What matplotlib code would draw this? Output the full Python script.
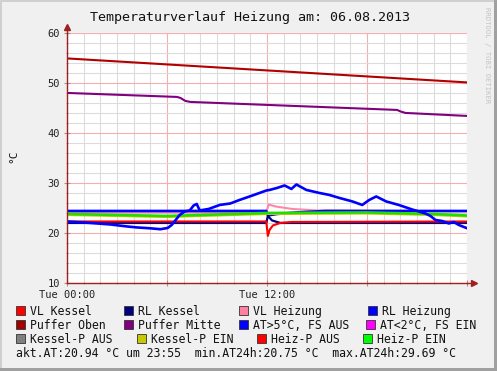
import numpy as np
import matplotlib
matplotlib.use('Agg')
import matplotlib.pyplot as plt
from matplotlib.patches import Rectangle
from matplotlib.ticker import MultipleLocator

# --- data (hours since Tue 00:00, degrees C) ---
oben_t = [0, 24]
oben_v = [54.9, 50.1]

mitte_t = [0, 6.6, 6.8, 7.1, 7.4, 19.8, 20.0, 20.3, 24]
mitte_v = [48.0, 47.2, 47.0, 46.4, 46.2, 44.6, 44.3, 44.0, 43.4]

vlk_t = [0, 11.95, 12.05, 12.15, 12.35, 12.8, 13.5, 24]
vlk_v = [22.3, 22.3, 19.4, 20.6, 21.5, 22.0, 22.2, 22.3]

rlk_t = [0, 11.95, 12.05, 12.3, 12.8, 24]
rlk_v = [22.0, 22.0, 23.4, 22.5, 22.0, 22.0]

vlh_t = [0, 11.95, 12.1, 12.5, 13.5, 15.0, 24]
vlh_v = [24.1, 24.1, 25.7, 25.3, 24.8, 24.5, 24.3]

rlh_t = [0, 11.95, 12.05, 12.6, 13.8, 15.5, 24]
rlh_v = [24.4, 24.4, 23.5, 23.8, 24.1, 24.4, 24.4]

at_t = [0, 1.4, 2.6, 3.6, 4.2, 4.7, 5.1, 5.6, 6.04, 6.28, 6.52, 6.76, 7.06, 7.36, 7.6, 7.78, 7.96,
        8.5, 9.16, 9.8, 10.35, 11.13, 11.97, 12.15, 12.6, 13.05, 13.46, 13.76, 14.36, 15.14, 15.74,
        16.34, 17.12, 17.71, 18.13, 18.55, 19.15, 19.9, 20.7, 21.5, 21.8, 22.1, 22.5, 22.9, 23.2, 23.5, 24]
at_v = [22.3, 22.0, 21.7, 21.3, 21.1, 21.0, 20.9, 20.75, 21.0, 21.6, 22.6, 23.6, 24.3, 24.5, 25.5, 25.8, 24.5,
        24.8, 25.6, 25.9, 26.6, 27.5, 28.5, 28.6, 29.0, 29.5, 28.8, 29.69, 28.6, 28.0, 27.6,
        27.0, 26.3, 25.6, 26.6, 27.3, 26.3, 25.6, 24.7, 23.9, 23.4, 22.6, 22.4, 21.9, 22.2, 21.6, 20.94]

kp_ein_t = [0, 6, 12, 18, 22, 24]
kp_ein_v = [23.6, 23.2, 23.8, 23.9, 23.6, 23.3]

hp_ein_t = [0, 6, 12, 18, 22, 24]
hp_ein_v = [23.8, 23.4, 24.0, 24.1, 23.8, 23.5]

tick_hours = [0, 12]
tick_labels = ['Tue 00:00', 'Tue 12:00']

legend_rows = [
    [('VL Kessel', '#ff0000'), ('RL Kessel', '#000080'), ('VL Heizung', '#ff80a0'), ('RL Heizung', '#0000ff')],
    [('Puffer Oben', '#a00000'), ('Puffer Mitte', '#800080'), ('AT>5°C, FS AUS', '#0000ff'), ('AT<2°C, FS EIN', '#ff00ff')],
    [('Kessel-P AUS', '#808080'), ('Kessel-P EIN', '#c8c800'), ('Heiz-P AUS', '#ff0000'), ('Heiz-P EIN', '#00ff00')],
]
legend_x = [[16, 124, 239, 368], [16, 124, 239, 366], [16, 137, 257, 363]]
stats = 'akt.AT:20.94 °C um 23:55  min.AT24h:20.75 °C  max.AT24h:29.69 °C'

W, H = 497, 371
mono = 'DejaVu Sans Mono'

fig = plt.figure(figsize=(4.971, 3.711), dpi=100)
fig.patch.set_facecolor('#f0f0f0')
ax = fig.add_axes([67 / W, 1 - 283 / H, 400 / W, 250 / H])
ax.set_facecolor('white')

ax.set_xlim(0, 24)
ax.set_ylim(10, 60)
ax.xaxis.set_major_locator(MultipleLocator(6))
ax.xaxis.set_minor_locator(MultipleLocator(1))
ax.yaxis.set_major_locator(MultipleLocator(10))
ax.yaxis.set_minor_locator(MultipleLocator(2))
ax.set_axisbelow(True)
ax.grid(which='minor', color='#dcdcdc', lw=0.8)
ax.grid(which='major', color='#f4b0b0', lw=0.8)
ax.set_xticklabels([])
ax.tick_params(which='both', colors='#b09090', direction='inout', labelcolor='#222222')
ax.tick_params(which='major', length=4, width=0.8)
ax.tick_params(which='minor', length=2, width=0.6)
for lab in ax.get_yticklabels():
    lab.set_fontfamily(mono)
    lab.set_fontsize(7.5)
ax.tick_params(axis='y', pad=3)
for h, t in zip(tick_hours, tick_labels):
    ax.text(h, 8.6, t, ha='center', va='top', fontfamily=mono, fontsize=7.5,
            color='#222222', clip_on=False)

for s in ['top', 'right']:
    ax.spines[s].set_visible(False)
for s in ['left', 'bottom']:
    ax.spines[s].set_color('#a02020')
    ax.spines[s].set_linewidth(1.0)
ax.plot([0], [61.2], marker='^', color='#a02020', ms=4, clip_on=False)
ax.plot([0, 0], [60, 61.2], color='#a02020', lw=1.0, clip_on=False)
ax.plot([24.4], [10], marker='>', color='#a02020', ms=4, clip_on=False)
ax.plot([24, 24.4], [10, 10], color='#a02020', lw=1.0, clip_on=False)

# series
ax.plot(vlh_t, vlh_v, color='#ff88aa', lw=1.5)
ax.plot(rlh_t, rlh_v, color='#0000ff', lw=1.9)
ax.plot(kp_ein_t, kp_ein_v, color='#c8c800', lw=1.6)
ax.plot(hp_ein_t, hp_ein_v, color='#22dd00', lw=1.9)
ax.plot(rlk_t, rlk_v, color='#000080', lw=1.6)
ax.plot(vlk_t, vlk_v, color='#ff0000', lw=1.5)
ax.plot(oben_t, oben_v, color='#b00000', lw=1.5)
ax.plot(mitte_t, mitte_v, color='#800080', lw=1.5)
ax.plot(at_t, at_v, color='#0000ff', lw=1.9)

# title and labels
fig.text(250 / W, 1 - 17 / H, 'Temperaturverlauf Heizung am: 06.08.2013', ha='center', va='center',
         fontfamily=mono, fontsize=9.6, color='#111111')
fig.text(13 / W, 1 - 156 / H, '°C', rotation=90, ha='center', va='center', fontfamily=mono,
         fontsize=8, color='#111111')
fig.text(487 / W, 1 - 7 / H, 'RRDTOOL / TOBI OETIKER', rotation=-90, ha='center', va='top',
         fontfamily=mono, fontsize=5.2, color='#c4c4c4')

# legend
row_y = [311, 325, 339]
for row, xs, yc in zip(legend_rows, legend_x, row_y):
    for (name, col), x0 in zip(row, xs):
        fig.add_artist(Rectangle((x0 / W, 1 - (yc + 4.5) / H), 9 / W, 9 / H, transform=fig.transFigure,
                                 facecolor=col, edgecolor='#333333', lw=0.6))
        fig.text((x0 + 14) / W, 1 - yc / H, name, ha='left', va='center', fontfamily=mono,
                 fontsize=8.3, color='#111111')
fig.text(16 / W, 1 - 353 / H, stats, ha='left', va='center', fontfamily=mono, fontsize=8.3,
         color='#111111')

# frame
fig.add_artist(Rectangle((0, 0), 2 / W, 1, transform=fig.transFigure, color='#d0d0d0', lw=0))
fig.add_artist(Rectangle((0, 1 - 2 / H), 1, 2 / H, transform=fig.transFigure, color='#d0d0d0', lw=0))
fig.add_artist(Rectangle((1 - 3 / W, 0), 3 / W, 1, transform=fig.transFigure, color='#a0a0a0', lw=0))
fig.add_artist(Rectangle((0, 0), 1, 3 / H, transform=fig.transFigure, color='#a0a0a0', lw=0))

fig.savefig('out.png', dpi=100, facecolor=fig.get_facecolor())
